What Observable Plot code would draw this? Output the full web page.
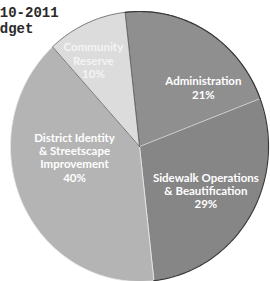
<!DOCTYPE html>
<html>
<head>
<meta charset="utf-8">
<script src="https://cdn.jsdelivr.net/npm/d3@7"></script>
<script src="https://cdn.jsdelivr.net/npm/@observablehq/plot@0.6"></script>
<style>
  html, body { margin: 0; padding: 0; background: #fff; overflow: hidden; }
  #wrap { position: relative; width: 270px; height: 281px; }
  #title { position: absolute; left: -17px; top: 5px; font-family: "Liberation Mono", "DejaVu Sans Mono", monospace; font-weight: bold; font-size: 14px; line-height: 16px; color: #2a2a2a; z-index: 2; }
</style>
</head>
<body>
<div id="wrap">
  <div id="title">2010-2011<br>Budget</div>
  <div id="chart"></div>
</div>
<script>
// Data
const categories = ["Administration", "Sidewalk Operations & Beautification", "District Identity & Streetscape Improvement", "Community Reserve"];
const labelLines = [["Administration"], ["Sidewalk Operations", "& Beautification"], ["District Identity", "& Streetscape", "Improvement"], ["Community", "Reserve"]];
const values = [21, 29, 40, 10];
const colors = ["#8f8f8f", "#868686", "#b4b4b4", "#dcdcdc"];

// Layout
const W = 270, H = 281;
const cx = 139, cy = 146, RX = 129, RY = 135;
const startAngle = -6.4 * Math.PI / 180;
// label anchor: radius fraction and angle nudge (degrees) per slice
const labelRadius = [0.66, 0.61, 0.51, 0.73];
const labelAngleShift = [17.2, 1.1, 15.3, -4.9];

const pie = d3.pie().sort(null).value(d => d.value).startAngle(startAngle).endAngle(startAngle + 2 * Math.PI);
const data = categories.map((c, i) => ({name: c, value: values[i], color: colors[i], lines: labelLines[i], i}));
const arcs = pie(data);

const pt = (a, f) => [cx + f * RX * Math.sin(a), cy - f * RY * Math.cos(a)];

const polys = [];
arcs.forEach(a => {
  polys.push({name: a.data.name, x: cx, y: cy});
  const n = Math.max(2, Math.ceil((a.endAngle - a.startAngle) / (Math.PI / 180)));
  for (let k = 0; k <= n; k++) {
    const ang = a.startAngle + (a.endAngle - a.startAngle) * k / n;
    const [x, y] = pt(ang, 1);
    polys.push({name: a.data.name, x, y});
  }
  polys.push({name: a.data.name, x: cx, y: cy});
});

// outer dark rim for the two darker slices
const rim = [];
arcs.filter(a => a.data.i < 2).forEach(a => {
  const n = Math.ceil((a.endAngle - a.startAngle) / (Math.PI / 180));
  for (let k = 0; k <= n; k++) {
    const ang = a.startAngle + (a.endAngle - a.startAngle) * k / n;
    const [x, y] = pt(ang, 1);
    rim.push({name: a.data.name, x, y});
  }
});

const labels = [];
arcs.forEach(a => {
  const i = a.data.i;
  const mid = (a.startAngle + a.endAngle) / 2 + labelAngleShift[i] * Math.PI / 180;
  const [x, y] = pt(mid, labelRadius[i]);
  const lines = [...a.data.lines, a.data.value + "%"];
  labels.push({x, y, text: lines.join("\n"), i});
});

const colorByName = Object.fromEntries(data.map(d => [d.name, d.color]));

const chart = Plot.plot({
  width: W, height: H,
  margin: 0,
  x: {domain: [0, W], range: [0, W], axis: null},
  y: {domain: [0, H], range: [0, H], axis: null},
  style: {background: "transparent"},
  marks: [
    ...categories.map(c => Plot.line(polys.filter(p => p.name === c), {x: "x", y: "y", fill: colorByName[c], stroke: c === categories[2] || c === categories[1] ? "#e8e8e8" : "#5a5a5a", strokeWidth: 0.8, curve: "linear"})),
    Plot.line(rim, {x: "x", y: "y", z: "name", stroke: "#3a3a3a", strokeWidth: 1.2}),
    Plot.text(labels, {x: "x", y: "y", text: "text", fill: d => d.i === 3 ? "#f4f4f4" : "#ffffff", fontFamily: "Lato", fontWeight: "bold", fontSize: 11.5, lineHeight: 1.16, textAnchor: "middle"})
  ]
});
document.getElementById("chart").appendChild(chart);
</script>
</body>
</html>
